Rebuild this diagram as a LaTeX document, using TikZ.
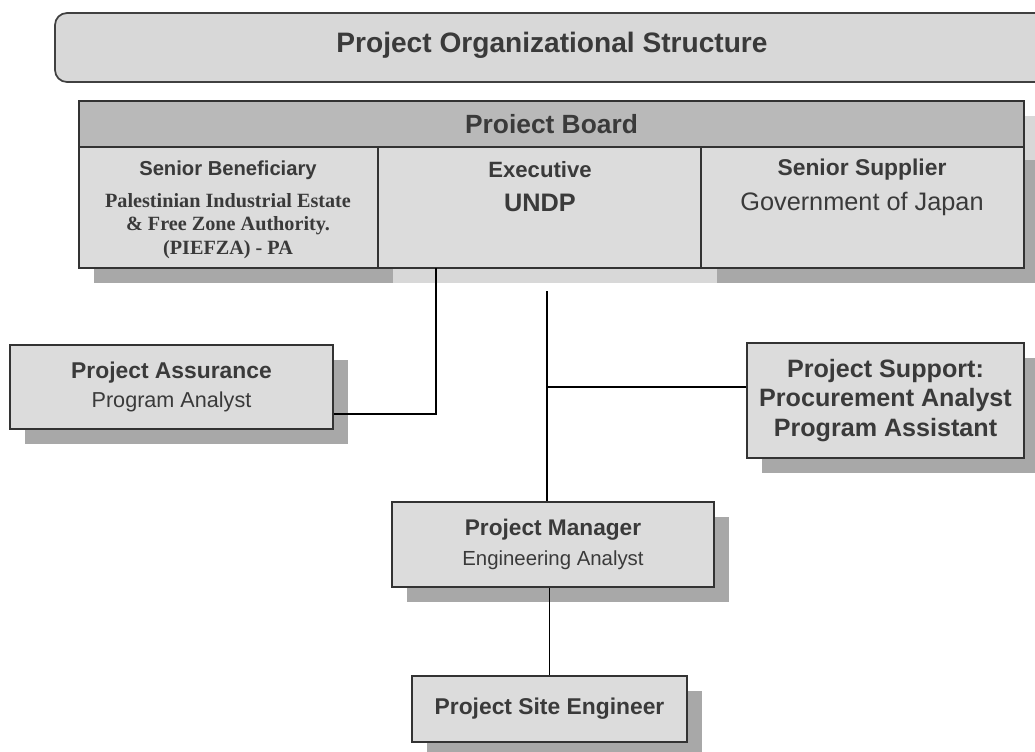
\documentclass[tikz,border=0pt]{standalone}
\usepackage{fontspec}
\setmainfont{Liberation Sans}
\newfontfamily\timesfont{Liberation Serif}
\usetikzlibrary{positioning,shadows,calc}

\definecolor{boxgray}{HTML}{DCDCDC}
\definecolor{headgray}{HTML}{B9B9B9}
\definecolor{shadedark}{HTML}{A8A8A8}
\definecolor{shadelight}{HTML}{D8D8D8}
\definecolor{inkgray}{HTML}{3A3A3A}

\tikzset{
  orgbox/.style={draw=black!80, line width=0.8pt, fill=boxgray, text=inkgray,
                 align=center, inner sep=0pt},
  orgshadow/.style={drop shadow={shadow xshift=0.3cm, shadow yshift=-0.3cm,
                    fill=shadedark, opacity=1}},
  lbl/.style={text=inkgray, align=center, inner sep=0pt},
  wire/.style={draw=black, line width=0.9pt},
}

\begin{document}
\begin{tikzpicture}[x=0.02cm, y=-0.02cm]
    \useasboundingbox (0,0) rectangle (1035,751);
    % title bar
    \draw[fill=shadelight, draw=black!75, line width=1pt, rounded corners=0.24cm]
        (55,13) rectangle (1060,82);
    \node[lbl, font=\fontsize{16}{19}\selectfont\bfseries] (title) at (552,45)
        {Project Organizational Structure};
    % board
    \fill[shadedark] (94,116) rectangle (1039,283);
    \fill[shadelight] (393,268) rectangle (717,283);
    \fill[shadelight] (1024,116) rectangle (1039,160);
    \node[orgbox, fill=headgray, minimum width=18.9cm, minimum height=0.92cm,
          font=\fontsize{15}{18}\selectfont\bfseries] (board) at (551.5,124) {Proiect Board};
    \node[orgbox, minimum width=5.98cm, minimum height=2.42cm] (benefbox) at (228.5,207.5) {};
    \node[orgbox, minimum width=6.46cm, minimum height=2.42cm] (execbox) at (539.5,207.5) {};
    \node[orgbox, minimum width=6.46cm, minimum height=2.42cm] (suppbox) at (862.5,207.5) {};
    \node[lbl, font=\fontsize{11.5}{14}\selectfont\bfseries] (benef) at (228,170) {Senior Beneficiary};
    \node[lbl, font=\timesfont\fontsize{11.5}{13.4}\selectfont\bfseries] (benefname) at (228,226)
        {Palestinian Industrial Estate\\ \& Free Zone Authority.\\ (PIEFZA) - PA};
    \node[lbl, font=\fontsize{12.6}{15}\selectfont\bfseries] (exec) at (540,170) {Executive};
    \node[lbl, font=\fontsize{14.4}{17}\selectfont\bfseries] (execname) at (540,203) {UNDP};
    \node[lbl, font=\fontsize{13}{15}\selectfont\bfseries] (supp) at (862,170) {Senior Supplier};
    \node[lbl, font=\fontsize{14.4}{17}\selectfont] (suppname) at (862,204) {Government of Japan};
    % other boxes
    \node[orgbox, orgshadow, minimum width=6.46cm, minimum height=1.68cm,
          font=\fontsize{12.3}{16}\selectfont] (assure) at (171.5,387)
        {{\fontsize{13}{16}\selectfont\bfseries Project Assurance}\\ Program Analyst};
    \node[orgbox, orgshadow, minimum width=5.54cm, minimum height=2.3cm,
          font=\fontsize{14.3}{17}\selectfont\bfseries] (support) at (885.5,400.5)
        {Project Support:\\ Procurement Analyst\\ Program Assistant};
    \node[orgbox, orgshadow, minimum width=6.44cm, minimum height=1.7cm,
          font=\fontsize{11.6}{17}\selectfont] (pm) at (553,544.5)
        {{\fontsize{12.9}{17}\selectfont\bfseries Project Manager}\\ Engineering Analyst};
    \node[orgbox, orgshadow, minimum width=5.5cm, minimum height=1.32cm,
          font=\fontsize{13}{16}\selectfont\bfseries] (pse) at (549.5,709) {Project Site Engineer};
    % lines
    \coordinate (aj) at (436,268);
    \coordinate (ctop) at (547,291);
    \coordinate (cbr) at (547,387);
    \draw[wire] (aj) |- ([yshift=-0.54cm]assure.east);
    \draw[wire] (ctop) -- (ctop |- pm.north);
    \draw[wire] (cbr) -- (cbr -| support.west);
    \draw[wire] (pm.south -| pse.north) -- (pse.north);
\end{tikzpicture}
\end{document}
